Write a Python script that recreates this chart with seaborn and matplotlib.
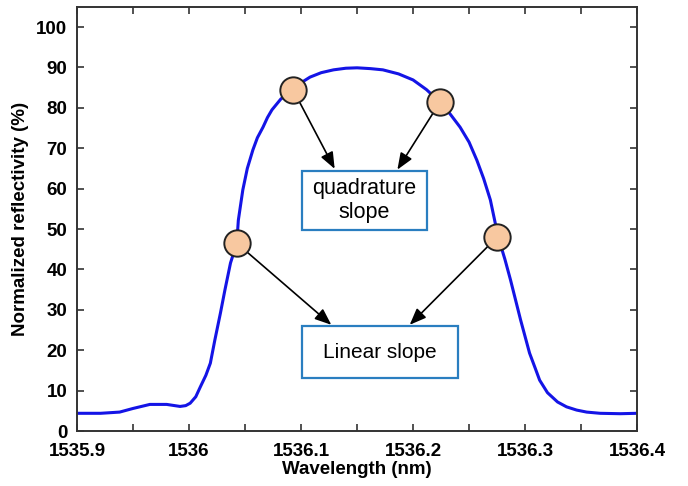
import matplotlib
matplotlib.use("Agg")
import matplotlib.pyplot as plt
import seaborn as sns
import pandas as pd

# Spectrum
wavelength = [1535.900, 1535.921, 1535.938, 1535.950, 1535.965, 1535.980, 1535.992,
              1535.997, 1536.001, 1536.006, 1536.010, 1536.015, 1536.019, 1536.023,
              1536.028, 1536.032, 1536.037, 1536.0426, 1536.044, 1536.048, 1536.052,
              1536.057, 1536.061, 1536.066, 1536.070, 1536.074, 1536.082, 1536.093,
              1536.100, 1536.108, 1536.118, 1536.129, 1536.140, 1536.150, 1536.162,
              1536.173, 1536.187, 1536.200, 1536.212, 1536.224, 1536.233, 1536.242,
              1536.250, 1536.257, 1536.263, 1536.269, 1536.276, 1536.282, 1536.287,
              1536.296, 1536.304, 1536.309, 1536.313, 1536.320, 1536.329, 1536.337,
              1536.346, 1536.355, 1536.367, 1536.385, 1536.400]
reflectivity = [4.4, 4.4, 4.7, 5.6, 6.6, 6.6, 6.1,
                6.3, 6.9, 8.5, 10.9, 13.8, 16.8, 22.5,
                29.2, 34.9, 41.6, 46.5, 52.2, 59.7, 65.0,
                69.6, 72.6, 75.2, 77.6, 79.5, 82.2, 84.4,
                86.2, 87.6, 88.7, 89.4, 89.8, 89.9, 89.7,
                89.4, 88.4, 86.9, 84.5, 81.4, 78.5, 75.2,
                71.5, 67.0, 62.5, 57.2, 48.0, 42.5, 37.4,
                27.5, 19.3, 15.6, 12.6, 9.5, 7.2, 6.0,
                5.2, 4.7, 4.4, 4.3, 4.4]

# Marked operating points
point_x = [1536.0426, 1536.093, 1536.224, 1536.275]
point_y = [46.5, 84.4, 81.4, 48.0]
point_group = ["linear", "quadrature", "quadrature", "linear"]

box_labels = ["quadrature\nslope", "Linear slope"]

x_ticks = [1535.9, 1536.0, 1536.1, 1536.2, 1536.3, 1536.4]
x_tick_labels = ["1535.9", "1536", "1536.1", "1536.2", "1536.3", "1536.4"]
y_ticks = [0, 10, 20, 30, 40, 50, 60, 70, 80, 90, 100]

sns.set_style("ticks")
plt.rcParams["font.family"] = ["Liberation Sans", "DejaVu Sans"]
plt.rcParams["text.color"] = "black"
plt.rcParams["axes.labelcolor"] = "black"
plt.rcParams["xtick.color"] = "black"
plt.rcParams["ytick.color"] = "black"

fig = plt.figure(figsize=(6.88, 4.86), dpi=100)
ax = fig.add_axes([0.112, 0.113, 0.814, 0.873])

df = pd.DataFrame({"wl": wavelength, "r": reflectivity})
sns.lineplot(data=df, x="wl", y="r", ax=ax, color="#1414E6", linewidth=2.2, sort=False)

# arrows from points to boxes
targets = [(1536.127, 26.3), (1536.130, 64.9), (1536.186, 64.7), (1536.197, 26.3)]
for px, py, (tx, ty) in zip(point_x, point_y, targets):
    ax.annotate("", xy=(tx, ty), xytext=(px, py),
                arrowprops=dict(arrowstyle="-|>,head_length=1.0,head_width=0.4",
                                color="black", lw=1.2, shrinkA=9, shrinkB=0),
                zorder=3)

pts = pd.DataFrame({"x": point_x, "y": point_y, "g": point_group})
sns.scatterplot(data=pts, x="x", y="y", ax=ax, s=360, color="#F8C8A0",
                edgecolor="#222222", linewidth=1.4, zorder=5, legend=False)

# boxes
box_col = "#2A7EC0"
ax.add_patch(plt.Rectangle((1536.101, 49.8), 0.111, 14.6, fill=True, facecolor="white",
                           edgecolor=box_col, lw=1.6, zorder=4))
ax.text(1536.1565, 57.1, box_labels[0], ha="center", va="center", fontsize=15.5,
        linespacing=1.2, zorder=6)
ax.add_patch(plt.Rectangle((1536.101, 13.1), 0.139, 12.9, fill=True, facecolor="white",
                           edgecolor=box_col, lw=1.6, zorder=4))
ax.text(1536.1705, 19.5, box_labels[1], ha="center", va="center", fontsize=15, zorder=6)

ax.set_xlim(1535.9, 1536.4)
ax.set_ylim(0, 105)
ax.set_xticks(x_ticks)
ax.set_xticklabels(x_tick_labels)
ax.set_xticks([1535.95, 1536.05, 1536.15, 1536.25, 1536.35], minor=True)
ax.set_yticks(y_ticks)
ax.tick_params(axis="both", which="both", direction="in", top=True, right=True,
               length=5, width=1.2, color="#333333", labelsize=13.5)
ax.tick_params(axis="x", which="major", pad=8.5)
ax.tick_params(axis="y", which="major", pad=7)
for lab in ax.get_xticklabels() + ax.get_yticklabels():
    lab.set_fontweight("bold")
for s in ax.spines.values():
    s.set_visible(True)
    s.set_linewidth(1.4)
    s.set_color("#333333")

ax.set_xlabel("Wavelength (nm)", fontsize=13.5, fontweight="bold", labelpad=1)
ax.set_ylabel("Normalized reflectivity (%)", fontsize=13.5, fontweight="bold", labelpad=5)

fig.savefig("out.png", dpi=100)
